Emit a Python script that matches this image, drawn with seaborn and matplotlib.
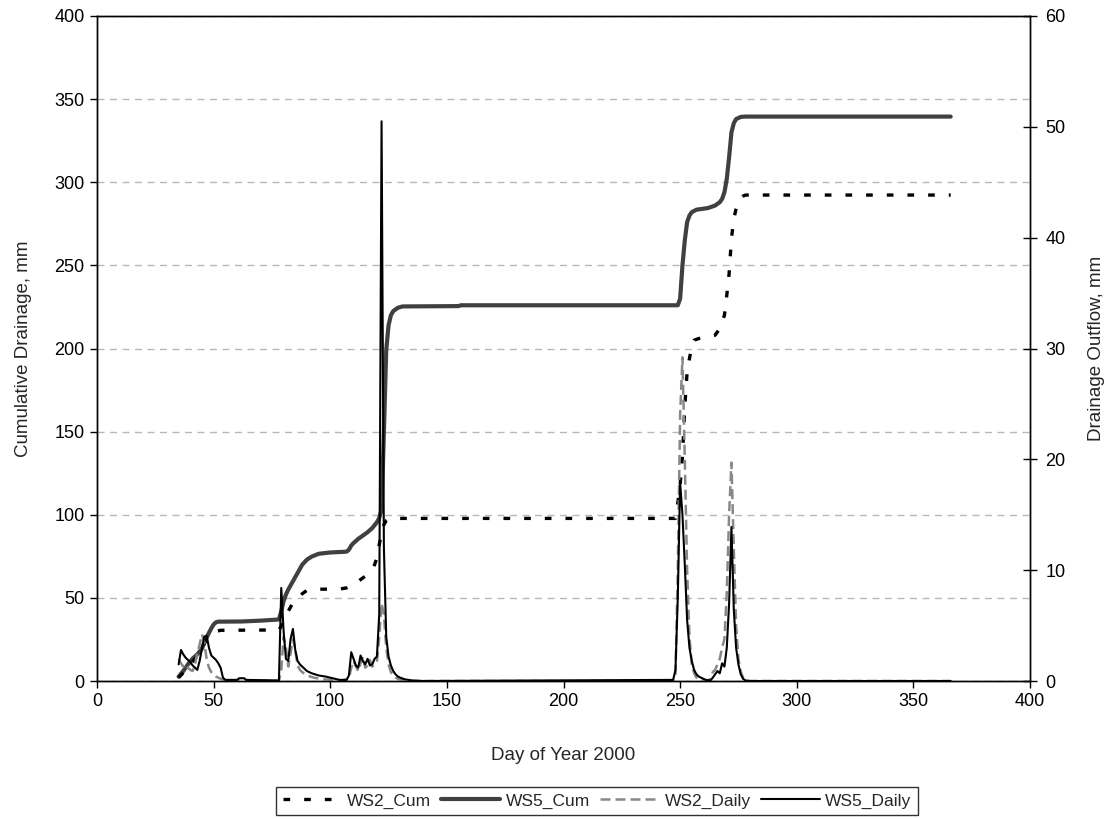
import matplotlib
matplotlib.use("Agg")
import matplotlib.pyplot as plt
import seaborn as sns
import pandas as pd

# ---------------- data ----------------
ws2_cum_day = [35, 37, 40, 43, 45, 47, 49, 51, 53, 78, 79, 80, 82, 84, 86, 88, 90, 92, 104,
               107, 110, 112, 114, 116, 118, 119, 120, 121, 122, 123, 124, 125, 126, 248,
               249, 250, 251, 252, 253, 254, 255, 256, 258, 262, 265, 267, 268, 269, 270,
               271, 272, 273, 274, 275, 276, 277, 278, 366]
ws2_cum = [2, 5, 10, 15, 20, 25, 28, 29.8, 30.5, 30.7, 33, 37, 42, 47, 50, 52.5, 54.5, 55.2, 55.3,
           56, 58, 60, 62, 64, 67, 70, 74, 82, 89, 94, 96.5, 97.5, 97.8, 97.8,
           107, 118, 135, 165, 186, 194, 201, 205, 206, 207, 208, 212, 216, 220, 232,
           245, 266, 278, 284, 288, 290.5, 291.7, 292.3, 292.3]

ws5_cum_day = [35, 37, 39, 41, 43, 45, 46, 47, 48, 49, 50, 51, 52, 62, 70, 78, 79, 80, 81, 82,
               83, 84, 85, 86, 88, 90, 92, 95, 98, 100, 107, 108, 109, 110, 112, 114, 116,
               118, 120, 121, 122, 123, 124, 125, 126, 127, 129, 131, 155, 156, 249, 250,
               251, 252, 253, 254, 255, 257, 262, 265, 267, 268, 269, 270, 271, 272, 273,
               274, 276, 278, 366]
ws5_cum = [2.6, 6, 10, 13.5, 16, 19.5, 23, 26, 29, 31.7, 34, 35.3, 35.7, 35.8, 36.3, 37, 42, 48,
           52, 55, 57.5, 60, 62.5, 65, 70, 73, 74.8, 76.5, 77, 77.3, 77.8, 79, 81.5, 83,
           85.5, 87.5, 89.5, 92, 95.5, 98, 103, 150, 199, 214, 220, 222.5, 224.5, 225.3,
           225.5, 226, 226, 230, 250, 265, 276, 280, 282, 283.5, 284.5, 286, 288, 290,
           294, 302, 315, 330, 335.5, 338, 339.3, 339.5, 339.5]

ws2_daily_day = [35, 36, 37, 38, 39, 40, 41, 42, 43, 44, 45, 46, 47, 48, 49, 50, 51, 52, 53, 55,
                 78, 79, 80, 81, 82, 83, 84, 85, 86, 87, 88, 90, 93, 97, 105, 108, 109, 110,
                 111, 112, 113, 114, 115, 116, 117, 118, 119, 120, 121, 122, 123, 124, 125,
                 126, 128, 130, 135, 247, 248, 249, 250, 251, 252, 253, 254, 255, 256, 257,
                 258, 262, 263, 264, 265, 266, 267, 268, 269, 270, 271, 272, 273, 274, 275,
                 276, 277, 278, 366]
ws2_daily = [2.0, 1.6, 1.3, 1.5, 1.2, 1.0, 0.9, 1.5, 2.5, 3.3, 4.2, 3.5, 2.0, 1.2, 0.8, 0.6, 0.4,
             0.3, 0.2, 0.05, 0, 1.0, 4.0, 3.0, 1.3, 2.5, 3.8, 2.8, 1.4, 1.0, 0.8, 0.5, 0.3,
             0.15, 0.05, 0.2, 1.2, 1.8, 1.3, 0.9, 1.6, 2.2, 1.2, 1.4, 1.9, 1.3, 1.5, 1.7, 4.0,
             7.0, 6.0, 3.0, 1.5, 0.8, 0.3, 0.1, 0, 0, 0.5, 10.0, 24.0, 29.2, 20.0, 10.0, 4.0,
             1.5, 0.7, 0.3, 0.1, 0.05, 0.2, 0.8, 1.0, 1.5, 2.0, 3.0, 3.8, 8.0, 15.0, 19.7,
             12.0, 5.0, 2.0, 0.8, 0.3, 0, 0]

ws5_daily_day = [35, 36, 37, 38, 39, 40, 41, 42, 43, 44, 45, 46, 47, 48, 49, 50, 51, 52, 53, 54,
                 55, 60, 61, 63, 64, 78, 79, 80, 81, 82, 83, 84, 85, 86, 87, 88, 89, 90, 92, 95,
                 98, 100, 104, 107, 108, 109, 110, 111, 112, 113, 114, 115, 116, 117, 118, 119,
                 120, 121, 122, 123, 124, 125, 126, 127, 128, 129, 130, 132, 135, 140, 247,
                 248, 249, 250, 251, 252, 253, 254, 255, 256, 257, 258, 259, 260, 261, 263,
                 264, 265, 266, 267, 268, 269, 270, 271, 272, 273, 274, 275, 276, 277, 278,
                 280, 366]
ws5_daily = [1.5, 2.8, 2.4, 2.1, 1.9, 1.7, 1.4, 1.2, 1.0, 1.8, 2.9, 4.0, 4.1, 3.0, 2.3, 2.1, 1.9,
             1.6, 1.2, 0.3, 0.1, 0.1, 0.25, 0.25, 0.1, 0.05, 8.4, 4.5, 2.0, 1.8, 3.8, 4.7, 2.8,
             1.8, 1.5, 1.3, 1.1, 0.9, 0.7, 0.5, 0.4, 0.3, 0.1, 0.1, 0.5, 2.6, 2.0, 1.4, 1.2,
             2.3, 1.8, 1.5, 2.0, 1.4, 1.5, 2.0, 2.2, 6.0, 50.5, 12.0, 4.0, 2.2, 1.4, 0.9, 0.6,
             0.4, 0.3, 0.15, 0.05, 0, 0.1, 1.0, 7.5, 17.9, 15.0, 10.5, 5.5, 3.0, 1.8, 1.0,
             0.6, 0.4, 0.3, 0.2, 0.1, 0.05, 0.3, 0.6, 0.9, 0.7, 1.6, 1.3, 3.0, 7.0, 13.9,
             6.5, 3.0, 1.5, 0.6, 0.2, 0.05, 0, 0]

x_ticks = [0, 50, 100, 150, 200, 250, 300, 350, 400]
left_ticks = [0, 50, 100, 150, 200, 250, 300, 350, 400]
right_ticks = [0, 10, 20, 30, 40, 50, 60]

# ---------------- styling ----------------
sns.set_style("ticks")
plt.rcParams['font.family'] = ['Liberation Sans', 'DejaVu Sans']

fig = plt.figure(figsize=(11.14, 8.19), dpi=100)
ax = fig.add_axes([97 / 1114, 1 - 681 / 819, (1030 - 97) / 1114, (681 - 16) / 819])
ax2 = ax.twinx()

df2c = pd.DataFrame({"day": ws2_cum_day, "val": ws2_cum})
df5c = pd.DataFrame({"day": ws5_cum_day, "val": ws5_cum})
df2d = pd.DataFrame({"day": ws2_daily_day, "val": ws2_daily})
df5d = pd.DataFrame({"day": ws5_daily_day, "val": ws5_daily})

sns.lineplot(data=df2c, x="day", y="val", ax=ax, color="black", linewidth=2.4,
             label="WS2_Cum", zorder=3)
l1 = ax.lines[-1]
l1.set_dashes((2, 4.2))
l1.set_dash_capstyle("butt")
sns.lineplot(data=df5c, x="day", y="val", ax=ax, color="#404040", linewidth=3.0,
             label="WS5_Cum", zorder=2)
l2 = ax.lines[-1]

sns.lineplot(data=df2d, x="day", y="val", ax=ax2, color="#888888", linewidth=1.8,
             label="WS2_Daily", zorder=2)
l3 = ax2.lines[-1]
l3.set_dashes((4, 2))
sns.lineplot(data=df5d, x="day", y="val", ax=ax2, color="black", linewidth=1.5,
             label="WS5_Daily", zorder=3)
l4 = ax2.lines[-1]

for a in (ax, ax2):
    if a.get_legend() is not None:
        a.get_legend().remove()

ax.set_xlim(0, 400)
ax.set_ylim(0, 400)
ax2.set_ylim(0, 60)
ax.set_xticks(x_ticks)
ax.set_yticks(left_ticks)
ax2.set_yticks(right_ticks)

ax.yaxis.grid(True, color="#b8b8b8", linestyle=(0, (5, 4)), linewidth=1.0)
ax.set_axisbelow(True)

for a in (ax, ax2):
    for s in a.spines.values():
        s.set_visible(True)
        s.set_color("black")
        s.set_linewidth(1.0)

ax.tick_params(axis="both", direction="out", length=5, width=1, labelsize=13,
               colors="black", pad=4)
ax2.tick_params(axis="y", direction="inout", length=10, width=1, labelsize=13,
                colors="black", pad=6)

ax.set_xlabel("Day of Year 2000", fontsize=13.5, labelpad=26)
ax.set_ylabel("Cumulative Drainage, mm", fontsize=13.5, labelpad=16)
ax2.set_ylabel("Drainage Outflow, mm", fontsize=13.5, labelpad=16)

leg = fig.legend([l1, l2, l3, l4], ["WS2_Cum", "WS5_Cum", "WS2_Daily", "WS5_Daily"],
                 loc="center", bbox_to_anchor=(597 / 1114, 1 - 801 / 819), ncol=4,
                 fontsize=12.5, frameon=True, fancybox=False, edgecolor="black",
                 handlelength=3.4, handletextpad=0.3, columnspacing=0.6,
                 borderpad=0.35, borderaxespad=0)
leg.get_frame().set_linewidth(1.0)

fig.savefig("out.png", dpi=100)
